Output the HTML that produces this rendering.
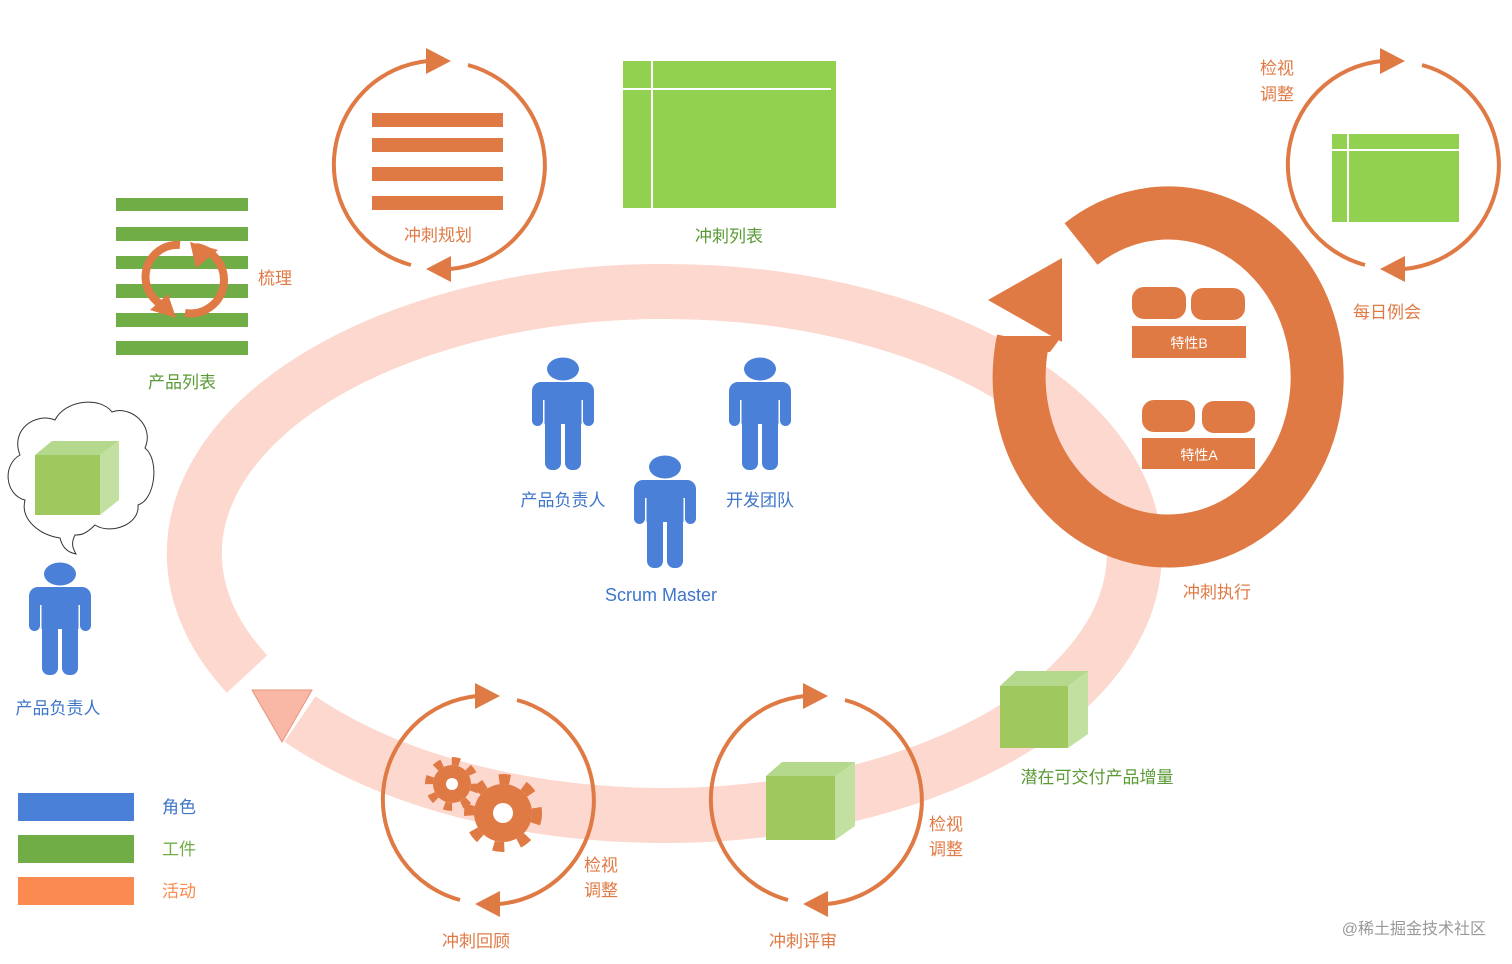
<!DOCTYPE html>
<html><head><meta charset="utf-8"><style>
html,body{margin:0;padding:0;background:#fff;}
svg{display:block}
text{font-family:"Liberation Sans","Noto Sans CJK SC",sans-serif;font-size:17px}
.o{fill:#e07a45}.g{fill:#5a9a35}.b{fill:#3f76c9}
</style></head><body>
<svg width="1512" height="964" viewBox="0 0 1512 964" xmlns="http://www.w3.org/2000/svg">
<defs>
<g id="p">
<ellipse cx="31" cy="11" rx="16" ry="11.5" fill="#4a80d8"/>
<rect x="0" y="24" width="62" height="18" rx="9" fill="#4a80d8"/>
<rect x="0" y="30" width="11" height="38" rx="5.5" fill="#4a80d8"/>
<rect x="51" y="30" width="11" height="38" rx="5.5" fill="#4a80d8"/>
<rect x="12.5" y="30" width="37" height="36" fill="#4a80d8"/>
<rect x="13" y="56" width="16" height="56" rx="7" fill="#4a80d8"/>
<rect x="33" y="56" width="16" height="56" rx="7" fill="#4a80d8"/>
</g>
<g id="cyc" fill="none" stroke="#e07a45" stroke-width="4">
<path d="M -27,100 A 104 104 0 0 1 -10,-104"/>
<path d="M 30,-100 A 104 104 0 0 1 12,104"/>
<polygon points="-12,-117 13,-104 -12,-91" fill="#e07a45" stroke="none"/>
<polygon points="13,117 -12,104 13,91" fill="#e07a45" stroke="none"/>
</g>
</defs>

<path d="M 247,674 A 470 262 0 1 1 300,719" fill="none" stroke="#fcd8ce" stroke-width="55"/>
<polygon points="252,690 312,690 282,742" fill="#f9b8a6" stroke="#e9937c" stroke-width="1"/>

<use href="#cyc" x="438" y="165"/>
<g fill="#e07a45">
<rect x="372" y="113" width="131" height="14"/>
<rect x="372" y="138" width="131" height="14"/>
<rect x="372" y="167" width="131" height="14"/>
<rect x="372" y="196" width="131" height="14"/>
</g>
<text x="438" y="241" text-anchor="middle" class="o">冲刺规划</text>

<rect x="623" y="61" width="213" height="147" fill="#92d050"/>
<line x1="623" y1="89" x2="831" y2="89" stroke="#fff" stroke-width="2"/>
<line x1="652" y1="61" x2="652" y2="208" stroke="#fff" stroke-width="2"/>
<text x="729" y="242" text-anchor="middle" class="g">冲刺列表</text>

<g fill="#70ad47">
<rect x="116" y="198" width="132" height="13"/>
<rect x="116" y="227" width="132" height="14"/>
<rect x="116" y="256" width="132" height="13"/>
<rect x="116" y="284" width="132" height="14"/>
<rect x="116" y="313" width="132" height="14"/>
<rect x="116" y="341" width="132" height="14"/>
</g>
<g fill="none" stroke="#e07a45" stroke-width="8">
<path d="M 180,245 A 32 32 0 0 0 170,308"/>
<path d="M 196,247 A 32 32 0 0 1 185,313"/>
</g>
<polygon points="150,310 168,294 176,318" fill="#e07a45"/>
<polygon points="190,242 218,250 196,268" fill="#e07a45"/>
<text x="258" y="284" class="o">梳理</text>
<text x="182" y="388" text-anchor="middle" class="g">产品列表</text>

<path d="M 60,538 C 40,535 20,520 25,500 C 5,495 2,465 20,455 C 10,430 35,412 55,420 C 65,400 100,396 112,412 C 130,405 155,425 145,448 C 160,460 155,500 138,505 C 140,525 110,535 95,525 C 85,535 80,535 75,535 C 70,545 74,550 76,554 C 66,552 62,546 60,538 Z" fill="#fff" stroke="#333" stroke-width="1"/>
<polygon points="35,455 52,441 119,441 100,455" fill="#b4d88c"/>
<polygon points="100,455 119,441 119,500 100,515" fill="#c2e09f"/>
<rect x="35" y="455" width="65" height="60" fill="#9fc95e"/>

<use href="#p" x="29" y="563"/>
<text x="58" y="714" text-anchor="middle" class="b">产品负责人</text>

<use href="#p" x="532" y="358"/>
<use href="#p" x="729" y="358"/>
<use href="#p" x="634" y="456"/>
<text x="563" y="506" text-anchor="middle" class="b">产品负责人</text>
<text x="760" y="506" text-anchor="middle" class="b">开发团队</text>
<text x="661" y="601" text-anchor="middle" class="b" style="font-size:18px">Scrum Master</text>

<!-- big orange ring -->
<path d="M 1081,244 A 149 164 0 1 1 1023,340" fill="none" stroke="#e07a45" stroke-width="53"/>
<polygon points="988,300 1062,258 1062,342" fill="#e07a45"/>
<polygon points="997,336 1062,336 1050,352 998,352" fill="#e07a45"/>
<g fill="#e07a45">
<rect x="1132" y="287" width="54" height="32" rx="12"/>
<rect x="1191" y="288" width="54" height="32" rx="12"/>
<rect x="1132" y="326" width="114" height="32"/>
<rect x="1142" y="400" width="53" height="32" rx="12"/>
<rect x="1202" y="401" width="53" height="32" rx="12"/>
<rect x="1142" y="438" width="113" height="31"/>
</g>
<text x="1189" y="348" text-anchor="middle" fill="#fff" style="font-size:14px">特性B</text>
<text x="1199" y="460" text-anchor="middle" fill="#fff" style="font-size:14px">特性A</text>
<text x="1217" y="598" text-anchor="middle" class="o">冲刺执行</text>

<use href="#cyc" x="1392" y="165"/>
<rect x="1332" y="134" width="127" height="88" fill="#92d050"/>
<line x1="1332" y1="150" x2="1459" y2="150" stroke="#fff" stroke-width="2"/>
<line x1="1348" y1="134" x2="1348" y2="222" stroke="#fff" stroke-width="2"/>
<text x="1277" y="74" text-anchor="middle" class="o">检视</text>
<text x="1277" y="100" text-anchor="middle" class="o">调整</text>
<text x="1387" y="318" text-anchor="middle" class="o">每日例会</text>

<polygon points="1000,686 1016,671 1088,671 1068,686" fill="#b4d88c"/>
<polygon points="1068,686 1088,671 1088,734 1068,748" fill="#c2e09f"/>
<rect x="1000" y="686" width="68" height="62" fill="#9fc95e"/>
<text x="1097" y="783" text-anchor="middle" class="g">潜在可交付产品增量</text>

<use href="#cyc" x="487" y="800"/>
<g fill="#e07a45">
<circle cx="452" cy="784" r="19"/>
<circle cx="452" cy="784" r="23" fill="none" stroke="#e07a45" stroke-width="8" stroke-dasharray="8 10"/>
<circle cx="503" cy="813" r="29"/>
<circle cx="503" cy="813" r="34" fill="none" stroke="#e07a45" stroke-width="10" stroke-dasharray="11 15"/>
</g>
<circle cx="452" cy="784" r="6" fill="#fff"/>
<circle cx="503" cy="813" r="10" fill="#fff"/>
<text x="601" y="871" text-anchor="middle" class="o">检视</text>
<text x="601" y="896" text-anchor="middle" class="o">调整</text>
<text x="476" y="947" text-anchor="middle" class="o">冲刺回顾</text>

<use href="#cyc" x="815" y="800"/>
<polygon points="766,776 782,762 855,762 835,776" fill="#b4d88c"/>
<polygon points="835,776 855,762 855,826 835,840" fill="#c2e09f"/>
<rect x="766" y="776" width="69" height="64" fill="#9fc95e"/>
<text x="946" y="830" text-anchor="middle" class="o">检视</text>
<text x="946" y="855" text-anchor="middle" class="o">调整</text>
<text x="803" y="947" text-anchor="middle" class="o">冲刺评审</text>

<rect x="18" y="793" width="116" height="28" fill="#4a80d8"/>
<rect x="18" y="835" width="116" height="28" fill="#70ad47"/>
<rect x="18" y="877" width="116" height="28" fill="#fb8a50"/>
<text x="162" y="813" class="b">角色</text>
<text x="162" y="855" style="fill:#70ad47">工件</text>
<text x="162" y="897" style="fill:#fb8a50">活动</text>

<text x="1486" y="934" text-anchor="end" style="fill:#999;font-size:16px">@稀土掘金技术社区</text>
</svg>
</body></html>
